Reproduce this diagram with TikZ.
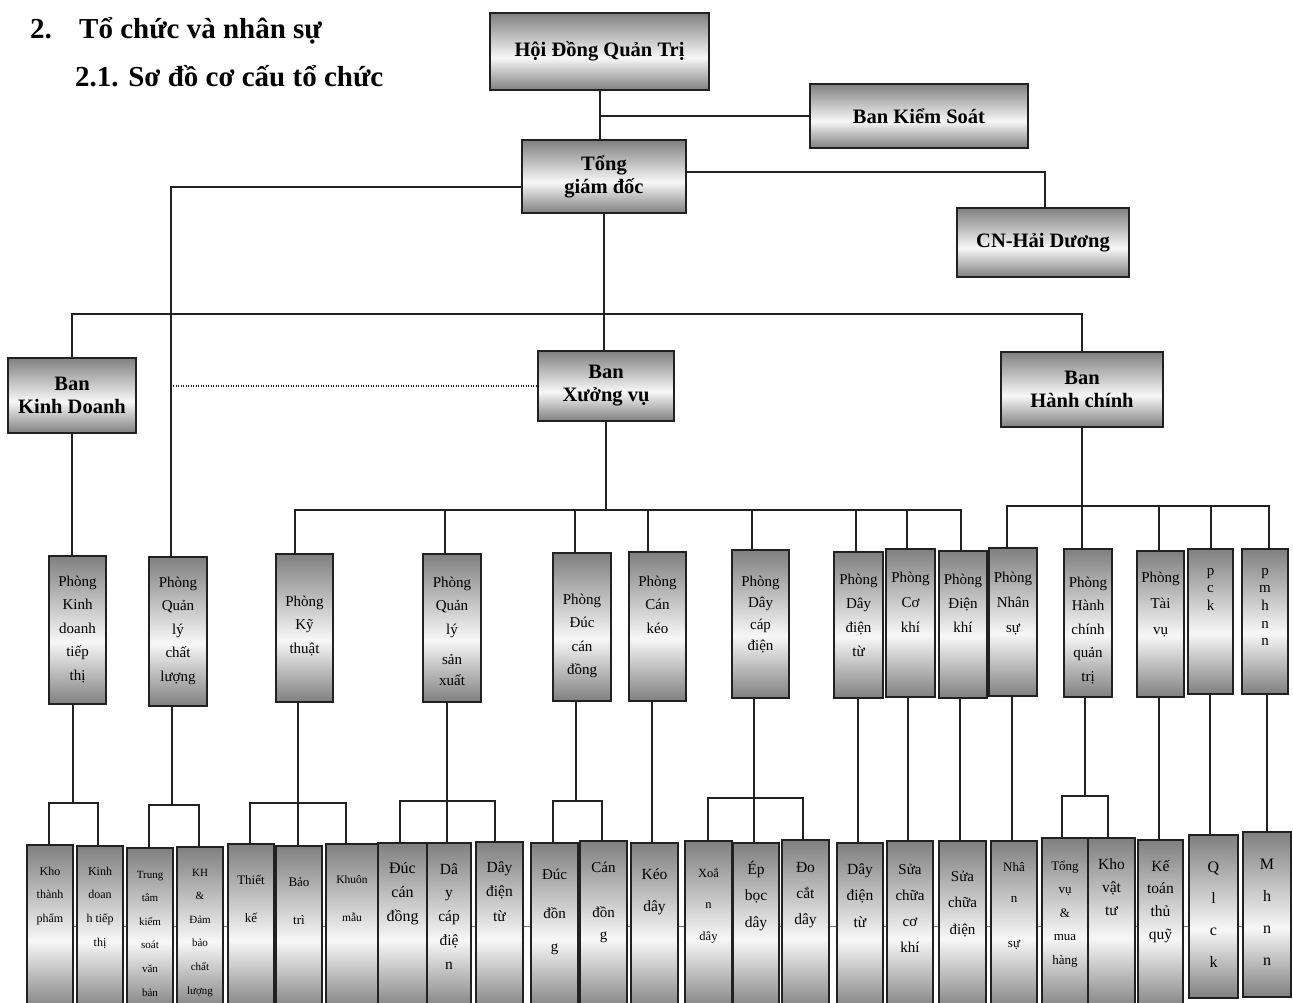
\documentclass[tikz,border=0pt]{standalone}
\usepackage{fontspec}
\setmainfont{Liberation Serif}
\pgfdeclarelayer{bg}
\pgfsetlayers{bg,main}
\definecolor{dk}{gray}{0.50}
\definecolor{lt}{gray}{0.97}
\definecolor{ink}{gray}{0.13}
\pgfdeclareverticalshading{boxshade}{100bp}{color(0bp)=(dk); color(25bp)=(dk); color(46bp)=(lt); color(75bp)=(dk); color(100bp)=(dk)}
\newcommand\fsz[2]{\fontsize{#1}{#2}\selectfont}
\newcommand\orgbox[8]{%
  \pgfmathsetmacro\bw{#5-#3}%
  \pgfmathsetmacro\bh{#6-#4}%
  \pgfmathsetmacro\bd{#7-#4-15}%
  \node[obox,#1,anchor=north west] (#2) at (#3,#4)
    {\parbox[c][\bh pt][t]{\bw pt}{\centering\vspace*{\bd pt}\rule{0pt}{15pt}#8\par}};%
}
\newcommand\headbox[7]{%
  \pgfmathsetmacro\bw{#5-#3}%
  \pgfmathsetmacro\bh{#6-#4}%
  \node[hbox,#1,anchor=north west,minimum width=\bw pt,minimum height=\bh pt] (#2) at (#3,#4) {#7};%
}
\begin{document}
\begin{tikzpicture}[x=1pt,y=-1pt,
  obox/.style={draw=ink,line width=2pt,shade,shading=boxshade,inner sep=0pt,outer sep=0pt},
  hbox/.style={draw=ink,line width=2.2pt,shade,shading=boxshade,inner sep=0pt,outer sep=0pt,align=center,font=\bfseries\fsz{20.5}{23}},
  mid/.style={font=\fsz{15}{23.5}},
  bot/.style={line width=1.8pt},
  titletext/.style={inner sep=0pt,font=\bfseries\fsz{29}{34}},
  conn/.style={draw=ink,line width=1.7pt},
  dotconn/.style={draw=ink,line width=1.3pt,dash pattern=on 1.2pt off 1.3pt}]
\useasboundingbox (0,0) rectangle (1293,1003);
\clip (0,0) rectangle (1293,1003);

% titles
\node[titletext,anchor=base west] (tnum) at (30,39) {2.};
\node[titletext,anchor=base west] (ttl) at (79,39) {Tổ chức và nhân sự};
\node[titletext,anchor=base west] (sub) at (75,87) {2.1. Sơ đồ cơ cấu tổ chức};

% top level boxes
\headbox{}{hdqt}{490}{13}{709}{90}{Hội Đồng Quản Trị}
\headbox{}{bks}{810}{84}{1028}{148}{Ban Kiểm Soát}
\headbox{}{tgd}{522}{140}{686}{213}{Tổng\\giám đốc}
\headbox{}{cn}{957}{208}{1129}{277}{CN-Hải Dương}
\headbox{}{bkd}{8}{358}{136}{433}{Ban\\Kinh Doanh}
\headbox{}{bxv}{538}{351}{674}{421}{Ban\\Xưởng vụ}
\headbox{}{bhc}{1001}{352}{1163}{427}{Ban\\Hành chính}

% middle row
\orgbox{mid}{pkd}{49}{556}{106}{704}{586}{Phòng\\Kinh\\doanh\\tiếp\\thị}
\orgbox{mid}{pqlcl}{149}{557}{207}{706}{587}{Phòng\\Quản\\lý\\chất\\lượng}
\orgbox{mid}{pkt}{276}{554}{333}{702}{606}{Phòng\\Kỹ\\thuật}
\orgbox{mid}{pqlsx}{423}{554}{481}{702}{587}{Phòng\\Quản\\lý\\[7pt]sản\\[-3pt]xuất}
\orgbox{mid}{pdcd}{553}{553}{611}{701}{604}{Phòng\\Đúc\\cán\\đồng}
\orgbox{mid}{pcanko}{629}{552}{686}{701}{586}{Phòng\\Cán\\kéo}
\orgbox{mid,font=\fsz{15}{21.5}}{pdcp}{732}{550}{789}{698}{586}{Phòng\\Dây\\cáp\\điện}
\orgbox{mid,font=\fsz{15}{24.3}}{pddt}{834}{552}{883}{698}{584}{Phòng\\Dây\\điện\\từ}
\orgbox{mid,font=\fsz{15}{25}}{pcok}{886}{549}{935}{697}{582}{Phòng\\Cơ\\khí}
\orgbox{mid,font=\fsz{15}{24}}{pdk}{939}{551}{987}{698}{584}{Phòng\\Điện\\khí}
\orgbox{mid,font=\fsz{15}{25}}{pns}{989}{548}{1037}{696}{582}{Phòng\\Nhân\\sự}
\orgbox{mid}{phcqt}{1064}{549}{1112}{697}{587}{Phòng\\Hành\\chính\\quản\\trị}
\orgbox{mid,font=\fsz{15}{26}}{ptv}{1137}{551}{1184}{697}{582}{Phòng\\Tài\\vụ}
\orgbox{mid,font=\fsz{15}{17.6}}{ppck}{1188}{549}{1233}{694}{575}{p\\c\\k}
\orgbox{mid,font=\fsz{15}{17.7}}{pmh}{1242}{549}{1288}{694}{575}{p\\m\\h\\n\\n}

% bottom row
\orgbox{bot,font=\fsz{12}{23.5}}{b1}{27}{845}{73}{1010}{875}{Kho\\thành\\phẩm}
\orgbox{bot,font=\fsz{12}{23.7}}{b2}{77}{846}{123}{1010}{875}{Kinh\\doan\\h tiếp\\thị}
\orgbox{bot,font=\fsz{11}{23.6}}{b3}{127}{848}{173}{1010}{878}{Trung\\tâm\\kiểm\\soát\\văn\\bản}
\orgbox{bot,font=\fsz{11}{23.6}}{b4}{177}{847}{223}{1010}{876}{KH\\\&\\Đảm\\bảo\\chất\\lượng}
\orgbox{bot,font=\fsz{13}{38}}{b5}{228}{844}{274}{1010}{884}{Thiết\\kế}
\orgbox{bot,font=\fsz{13}{38}}{b6}{276}{846}{322}{1010}{886}{Bảo\\trì}
\orgbox{bot,font=\fsz{11.5}{38}}{b7}{326}{844}{378}{1010}{883}{Khuôn\\mẫu}
\orgbox{bot,font=\fsz{16}{24}}{b8}{378}{843}{427}{1010}{873}{Đúc\\cán\\đồng}
\orgbox{bot,font=\fsz{15.5}{23.8}}{b9}{427}{843}{471}{1010}{874}{Dâ\\y\\cáp\\điệ\\n}
\orgbox{bot,font=\fsz{15.5}{24.5}}{b10}{476}{842}{523}{1010}{872}{Dây\\điện\\từ}
\orgbox{bot,font=\fsz{15}{23.5}}{b11}{531}{843}{578}{1010}{879}{Đúc\\[16pt]đồn\\[9pt]g}
\orgbox{bot,font=\fsz{15}{23}}{b12}{580}{841}{627}{1010}{872}{Cán\\[22pt]đồn\\[-1pt]g}
\orgbox{bot,font=\fsz{15.5}{32}}{b13}{631}{843}{678}{1010}{879}{Kéo\\dây}
\orgbox{bot,font=\fsz{12.5}{31.5}}{b14}{685}{841}{732}{1010}{877}{Xoắ\\n\\dây}
\orgbox{bot,font=\fsz{15.5}{26.5}}{b15}{733}{843}{779}{1010}{874}{Ép\\bọc\\dây}
\orgbox{bot,font=\fsz{15.5}{26}}{b16}{782}{840}{829}{1010}{872}{Đo\\cắt\\dây}
\orgbox{bot,font=\fsz{15.5}{26.5}}{b17}{837}{843}{883}{1010}{874}{Dây\\điện\\từ}
\orgbox{bot,font=\fsz{15}{26}}{b18}{887}{841}{933}{1010}{874}{Sửa\\chữa\\cơ\\khí}
\orgbox{bot,font=\fsz{15}{26.5}}{b19}{939}{841}{986}{1010}{881}{Sửa\\chữa\\điện}
\orgbox{bot,font=\fsz{13}{31}}{b20}{991}{841}{1037}{1010}{871}{Nhâ\\n\\[14pt]sự}
\orgbox{bot,font=\fsz{13}{23.5}}{b21}{1042}{838}{1088}{1010}{870}{Tổng\\vụ\\\&\\mua\\hàng}
\orgbox{bot,font=\fsz{15.5}{23}}{b22}{1088}{838}{1135}{1010}{869}{Kho\\vật\\tư}
\orgbox{bot,font=\fsz{15.5}{22.7}}{b23}{1138}{840}{1183}{1010}{871}{Kế\\toán\\thủ\\quỹ}
\orgbox{bot,font=\fsz{16}{31.7}}{b24}{1189}{835}{1238}{998}{872}{Q\\l\\c\\k}
\orgbox{bot,font=\fsz{16}{32.3}}{b25}{1243}{832}{1291}{997}{869}{M\\h\\n\\n}

\begin{pgfonlayer}{bg}
\fill[white] (0,0) rectangle (1293,1003);
% line behind bottom row
\draw[line width=1pt,black!55] (b1.west |- 0,926) -- (b25.west |- 0,926);
% upper levels
\draw[conn] (600,0 |- hdqt.south) -- (600,0 |- tgd.north);
\draw[conn] (600,0 |- bks.west) -- (bks.west);
\draw[conn] (tgd.east |- 0,172) -| (1045,0 |- cn.north);
\draw[conn] (tgd.west |- 0,187) -| (171,0 |- pqlcl.north);
\draw[conn] (tgd.south) -- (tgd.south |- bxv.north);
\draw[conn] (bkd.north) |- (bhc.north |- 0,314) -- (bhc.north);
\draw[conn] (bkd.south) -- (bkd.south |- pkd.north);
\draw[dotconn] (173,0 |- bxv.west) -- (bxv.west);
% Xuong vu bus
\draw[conn] (bxv.south) -- (bxv.south |- 0,510);
\draw[conn] (295,0 |- pkt.north) |- (961,510) -- (961,0 |- pdk.north);
\foreach \x/\n in {445/pqlsx,575/pdcd,648/pcanko,752/pdcp,856/pddt,907/pcok}
  \draw[conn] (\x,510) -- (\x,0 |- \n.north);
% Hanh chinh bus
\draw[conn] (bhc.south) -- (bhc.south |- 0,506);
\draw[conn] (1007,0 |- pns.north) |- (1269,506) -- (1269,0 |- pmh.north);
\foreach \x/\n in {1082/phcqt,1159/ptv,1211/ppck}
  \draw[conn] (\x,506) -- (\x,0 |- \n.north);
% lower connections
\draw[conn] (73,0 |- pkd.south) -- (73,803);
\draw[conn] (49,0 |- b1.north) |- (98,803) -- (98,0 |- b2.north);
\draw[conn] (172,0 |- pqlcl.south) -- (172,805);
\draw[conn] (149,0 |- b3.north) |- (199,805) -- (199,0 |- b4.north);
\draw[conn] (298,0 |- pkt.south) -- (298,0 |- b6.north);
\draw[conn] (250,0 |- b5.north) |- (346,803) -- (346,0 |- b7.north);
\draw[conn] (447,0 |- pqlsx.south) -- (447,0 |- b9.north);
\draw[conn] (400,0 |- b8.north) |- (495,801) -- (495,0 |- b10.north);
\draw[conn] (576,0 |- pdcd.south) -- (576,801);
\draw[conn] (553,0 |- b11.north) |- (602,801) -- (602,0 |- b12.north);
\draw[conn] (652,0 |- pcanko.south) -- (652,0 |- b13.north);
\draw[conn] (754,0 |- pdcp.south) -- (754,0 |- b15.north);
\draw[conn] (708,0 |- b14.north) |- (803,798) -- (803,0 |- b16.north);
\draw[conn] (858,0 |- pddt.south) -- (858,0 |- b17.north);
\draw[conn] (908,0 |- pcok.south) -- (908,0 |- b18.north);
\draw[conn] (960,0 |- pdk.south) -- (960,0 |- b19.north);
\draw[conn] (1012,0 |- pns.south) -- (1012,0 |- b20.north);
\draw[conn] (1085,0 |- phcqt.south) -- (1085,796);
\draw[conn] (1062,0 |- b21.north) |- (1108,796) -- (1108,0 |- b22.north);
\draw[conn] (1159,0 |- ptv.south) -- (1159,0 |- b23.north);
\draw[conn] (1210,0 |- ppck.south) -- (1210,0 |- b24.north);
\draw[conn] (1267,0 |- pmh.south) -- (1267,0 |- b25.north);
\end{pgfonlayer}
\end{tikzpicture}
\end{document}
